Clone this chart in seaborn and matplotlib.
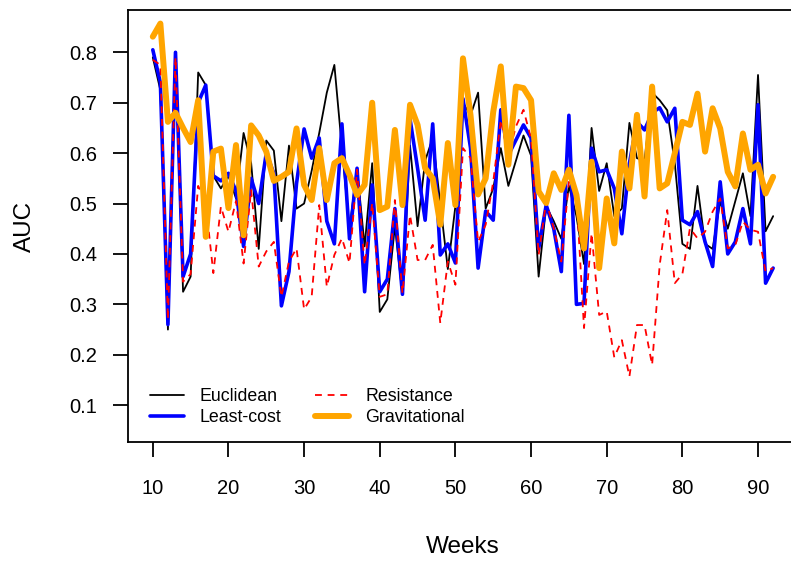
""" AUC per week for four connectivity measures """

import matplotlib
matplotlib.use('Agg')
import matplotlib.pyplot as plt
import numpy as np
import pandas as pd
import seaborn as sns

weeks = list(range(10, 93))

euclidean = [
    0.79, 0.725, 0.25, 0.80, 0.325, 0.355, 0.76, 0.735, 0.555, 0.53,
    0.555, 0.51, 0.64, 0.58, 0.41, 0.625, 0.605, 0.465, 0.615, 0.49,
    0.50, 0.565, 0.64, 0.72, 0.775, 0.61, 0.45, 0.57, 0.415, 0.58,
    0.285, 0.31, 0.455, 0.32, 0.615, 0.455, 0.585, 0.63, 0.50, 0.37,
    0.495, 0.70, 0.675, 0.72, 0.49, 0.53, 0.61, 0.535, 0.585, 0.635,
    0.595, 0.355, 0.495, 0.465, 0.43, 0.535, 0.475, 0.38, 0.65, 0.525,
    0.58, 0.475, 0.49, 0.66, 0.59, 0.585, 0.72, 0.705, 0.685, 0.58,
    0.42, 0.41, 0.535, 0.42, 0.41, 0.505, 0.45, 0.505, 0.56, 0.475,
    0.755, 0.445, 0.475,
]

least_cost = [
    0.805, 0.74, 0.26, 0.80, 0.355, 0.40, 0.70, 0.735, 0.555, 0.545,
    0.56, 0.525, 0.415, 0.55, 0.50, 0.60, 0.56, 0.297, 0.365, 0.54,
    0.648, 0.59, 0.63, 0.465, 0.42, 0.658, 0.43, 0.57, 0.325, 0.537,
    0.325, 0.35, 0.49, 0.32, 0.668, 0.57, 0.467, 0.658, 0.398, 0.42,
    0.382, 0.708, 0.61, 0.372, 0.485, 0.467, 0.686, 0.596, 0.626, 0.656,
    0.63, 0.41, 0.497, 0.45, 0.365, 0.675, 0.30, 0.302, 0.61, 0.563,
    0.567, 0.53, 0.44, 0.58, 0.662, 0.646, 0.68, 0.69, 0.662, 0.689,
    0.467, 0.458, 0.484, 0.424, 0.375, 0.543, 0.40, 0.424, 0.49, 0.42,
    0.696, 0.342, 0.372,
]

resistance = [
    0.785, 0.775, 0.27, 0.79, 0.345, 0.36, 0.535, 0.50, 0.362, 0.494,
    0.444, 0.505, 0.381, 0.527, 0.375, 0.405, 0.424, 0.315, 0.385, 0.411,
    0.29, 0.315, 0.497, 0.335, 0.398, 0.431, 0.382, 0.567, 0.378, 0.501,
    0.315, 0.32, 0.507, 0.322, 0.477, 0.388, 0.388, 0.418, 0.263, 0.385,
    0.339, 0.61, 0.59, 0.424, 0.458, 0.543, 0.666, 0.596, 0.653, 0.686,
    0.629, 0.398, 0.504, 0.451, 0.385, 0.543, 0.517, 0.253, 0.441, 0.279,
    0.286, 0.195, 0.229, 0.157, 0.259, 0.259, 0.18, 0.378, 0.487, 0.342,
    0.36, 0.451, 0.431, 0.444, 0.484, 0.51, 0.411, 0.418, 0.464, 0.448,
    0.444, 0.365, 0.372,
]

gravitational = [
    0.831, 0.857, 0.662, 0.68, 0.65, 0.622, 0.705, 0.434, 0.603, 0.609,
    0.491, 0.616, 0.437, 0.655, 0.635, 0.603, 0.545, 0.553, 0.563, 0.649,
    0.537, 0.507, 0.61, 0.507, 0.58, 0.59, 0.557, 0.517, 0.537, 0.70,
    0.487, 0.494, 0.646, 0.497, 0.696, 0.656, 0.57, 0.55, 0.458, 0.62,
    0.497, 0.788, 0.675, 0.518, 0.55, 0.682, 0.772, 0.577, 0.732, 0.729,
    0.705, 0.524, 0.501, 0.56, 0.527, 0.567, 0.517, 0.411, 0.583, 0.372,
    0.51, 0.421, 0.603, 0.53, 0.676, 0.514, 0.732, 0.53, 0.54, 0.60,
    0.662, 0.656, 0.718, 0.603, 0.689, 0.649, 0.563, 0.534, 0.639, 0.567,
    0.577, 0.52, 0.553,
]

x_ticks = [10, 20, 30, 40, 50, 60, 70, 80, 90]
y_ticks = [0.1, 0.2, 0.3, 0.4, 0.5, 0.6, 0.7, 0.8]

# name -> (colour, linewidth, linestyle)
STYLES = {
    'Euclidean': ('black', 1.3, '-'),
    'Least-cost': ('#0000FF', 2.6, '-'),
    'Resistance': ('#FF0000', 1.3, (0, (3.8, 3.2))),
    'Gravitational': ('#FFA500', 4.3, '-'),
}


def draw():
    df = pd.DataFrame({
        'Euclidean': euclidean,
        'Least-cost': least_cost,
        'Resistance': resistance,
        'Gravitational': gravitational,
    }, index=weeks)

    sns.set_style('ticks')
    plt.rcParams['font.family'] = ['Liberation Sans', 'DejaVu Sans']
    plt.rcParams['axes.labelcolor'] = 'black'
    plt.rcParams['text.color'] = 'black'

    fig = plt.figure(figsize=(7.91, 5.66), dpi=100)
    ax = fig.add_axes([0.1618, 0.2191, 0.8470, 0.7633])

    for name, (colour, lw, ls) in STYLES.items():
        sns.lineplot(x=df.index, y=df[name], ax=ax, color=colour,
                     linewidth=lw, linestyle=ls, label=name)

    ax.set_xlim(6.72, 95.28)
    ax.set_ylim(0.027, 0.884)
    ax.set_xticks(x_ticks)
    ax.set_xticklabels([str(t) for t in x_ticks])
    ax.set_yticks(y_ticks)
    ax.set_yticklabels([f'{t:.1f}' for t in y_ticks])
    ax.tick_params(axis='both', direction='out', length=10.8, width=1.3,
                   colors='black', labelsize=14.5)
    ax.tick_params(axis='x', pad=16)
    ax.tick_params(axis='y', pad=11.5)
    for spine in ax.spines.values():
        spine.set_linewidth(1.3)
        spine.set_color('black')

    ax.set_xlabel('Weeks', fontsize=17.5, va='center', color='black')
    ax.set_ylabel('AUC', fontsize=17.5, va='center', color='black')
    ax.xaxis.set_label_coords(0.5, -0.243)
    ax.yaxis.set_label_coords(-0.1537, 0.5)

    ax.legend(ncol=2, frameon=False, loc='center left',
              bbox_to_anchor=(0.0328, 0.081), fontsize=12.8,
              handlelength=1.9, handletextpad=0.9, columnspacing=1.9,
              labelspacing=0.25, borderpad=0, borderaxespad=0,
              labelcolor='black')

    fig.savefig('out.png', dpi=100)


if __name__ == '__main__':
    draw()
